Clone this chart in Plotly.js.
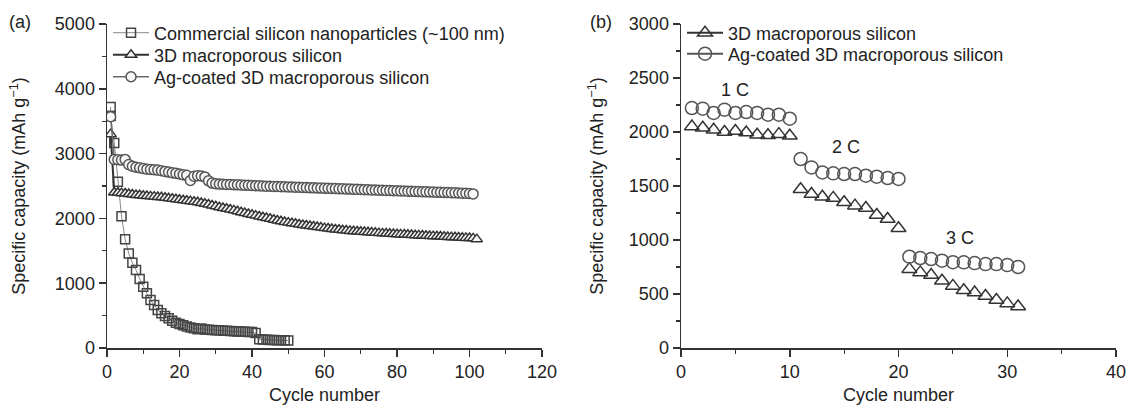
<!DOCTYPE html>
<html>
<head>
<meta charset="utf-8">
<script src="https://cdn.plot.ly/plotly-3.0.1.min.js"></script>
<style>
html,body{margin:0;padding:0;background:#fff;}
#chart{width:1126px;height:405px;}
</style>
</head>
<body>
<div id="chart"></div>
<script>
// ---------- Panel (a): cycling performance ----------
var commercialCycles = [1,1,2,3,4,5,6,7,8,9,10,11,12,13,14,15,16,17,18,19,20,21,22,23,24,25,26,27,28,29,30,31,32,33,34,35,36,37,38,39,40,41,42,43,44,45,46,47,48,49,50];
var commercialCap = [3720,3580,3165,2565,2035,1680,1460,1315,1205,1065,945,845,740,665,585,535,495,458,420,390,370,350,330,318,303,290,300,285,282,278,275,272,268,265,262,258,256,253,250,248,246,232,135,130,126,124,122,120,120,118,116];

var macroCycles = [];
for (var i = 1; i <= 102; i++) macroCycles.push(i);
var macroCap = [3300,2400,2395,2390,2385,2376,2370,2362,2356,2350,
  2345,2340,2336,2330,2325,2318,2311,2303,2296,2288,
  2281,2273,2266,2258,2248,2238,2226,2214,2200,2186,
  2172,2160,2150,2138,2124,2110,2096,2082,2068,2055,
  2043,2030,2018,2005,1993,1980,1968,1956,1945,1935,
  1925,1916,1907,1898,1890,1882,1874,1866,1858,1850,
  1843,1836,1830,1824,1818,1812,1807,1802,1797,1793,
  1789,1785,1781,1777,1773,1769,1766,1762,1759,1756,
  1753,1750,1747,1744,1741,1738,1735,1732,1729,1726,
  1723,1720,1717,1714,1711,1708,1705,1702,1699,1696,
  1692,1680];

var agCycles = [];
for (var j = 1; j <= 101; j++) agCycles.push(j);
var agCap = [3570,2910,2905,2900,2910,2830,2805,2790,2780,2770,
  2760,2755,2750,2745,2735,2725,2715,2705,2695,2685,
  2675,2665,2585,2650,2660,2655,2640,2580,2545,2535,
  2530,2528,2525,2523,2520,2518,2515,2512,2510,2508,
  2505,2503,2500,2498,2496,2494,2492,2490,2488,2486,
  2484,2482,2480,2478,2476,2474,2472,2470,2468,2466,
  2464,2462,2460,2458,2456,2454,2452,2450,2448,2446,
  2444,2442,2440,2438,2436,2434,2432,2430,2428,2426,
  2424,2422,2420,2418,2416,2414,2412,2410,2408,2406,
  2404,2402,2400,2398,2396,2394,2392,2390,2388,2384,
  2378];

// ---------- Panel (b): rate performance ----------
var rateCycles = [1,2,3,4,5,6,7,8,9,10,11,12,13,14,15,16,17,18,19,20,21,22,23,24,25,26,27,28,29,30,31];
var rateMacro = [2050,2040,2020,2000,2010,1995,1975,1970,1980,1965,
  1470,1425,1400,1390,1350,1318,1296,1232,1195,1109,
  730,700,675,622,575,535,513,482,445,413,385];
var rateAg = [2222,2216,2176,2207,2176,2185,2176,2160,2160,2123,
  1750,1672,1626,1617,1611,1611,1595,1586,1574,1565,
  845,833,824,808,795,793,786,777,777,768,750];
var rateLabels = ["1 C","2 C","3 C"];
var rateLabelX = [5.0,15.2,25.7];
var rateLabelY = [2390,1865,1020];

var seriesNames = ["Commercial silicon nanoparticles (~100 nm)","3D macroporous silicon","Ag-coated 3D macroporous silicon"];

var FONT = "Liberation Sans, Arial, sans-serif";
var FS = 18;

var traces = [
  {x: commercialCycles, y: commercialCap, name: seriesNames[0], mode: 'lines+markers', xaxis:'x', yaxis:'y', legend:'legend',
   line:{color:'#8a8a8a', width:1}, marker:{symbol:'square-open', size:9, color:'#444', line:{width:1.5, color:'#444'}}},
  {x: macroCycles, y: macroCap, name: seriesNames[1], mode: 'lines+markers', xaxis:'x', yaxis:'y', legend:'legend3',
   line:{color:'#333', width:2}, marker:{symbol:'triangle-up', size:10, color:'#f4f4f4', line:{width:1.5, color:'#333'}}},
  {x: agCycles, y: agCap, name: seriesNames[2], mode: 'lines+markers', xaxis:'x', yaxis:'y', legend:'legend4',
   line:{color:'#6a6a6a', width:1.5}, marker:{symbol:'circle', size:10, color:'#f8f8f8', line:{width:1.5, color:'#555'}}},

  {x: rateCycles, y: rateMacro, name: seriesNames[1], mode: 'markers', xaxis:'x2', yaxis:'y2', showlegend:false,
   marker:{symbol:'triangle-up-open', size:13, color:'#333', line:{width:1.5, color:'#333'}}},
  {x: rateCycles, y: rateAg, name: seriesNames[2], mode: 'markers', xaxis:'x2', yaxis:'y2', showlegend:false,
   marker:{symbol:'circle-open', size:13, color:'#555', line:{width:1.5, color:'#555'}}},
  // legend entries for panel (b)
  {x: [null], y: [null], name: seriesNames[1], mode: 'lines+markers', xaxis:'x2', yaxis:'y2', legend:'legend2',
   line:{color:'#333', width:2}, marker:{symbol:'triangle-up-open', size:13, color:'#333', line:{width:1.5}}},
  {x: [null], y: [null], name: seriesNames[2], mode: 'lines+markers', xaxis:'x2', yaxis:'y2', legend:'legend5',
   line:{color:'#555', width:2}, marker:{symbol:'circle-open', size:13, color:'#555', line:{width:1.5}}}
];

function xAxis(range, dtick, minor, domain, anchor) {
  return {domain: domain, anchor: anchor, range: range, dtick: dtick, tick0: 0,
    showline:true, linecolor:'#333', linewidth:1.5, ticks:'outside', ticklen:7, tickwidth:1.5, tickcolor:'#333',
    minor:{dtick:minor, ticks:'outside', ticklen:4, tickwidth:1.2, tickcolor:'#333'},
    showgrid:false, zeroline:false, ticklabeloverflow:'allow', tickfont:{family:FONT, size:FS, color:'#222'},
    title:{text:'Cycle number', font:{family:FONT, size:FS, color:'#222'}, standoff:9}};
}
function yAxis(range, dtick, minor, anchor, standoff) {
  return {domain:[0,1], anchor: anchor, range: range, dtick: dtick, tick0: 0,
    showline:true, linecolor:'#333', linewidth:1.5, ticks:'outside', ticklen:7, tickwidth:1.5, tickcolor:'#333',
    minor:{dtick:minor, ticks:'outside', ticklen:4, tickwidth:1.2, tickcolor:'#333'},
    showgrid:false, zeroline:false, ticklabeloverflow:'allow', tickfont:{family:FONT, size:FS, color:'#222'},
    title:{text:'Specific capacity (mAh g<sup>−1</sup>)', font:{family:FONT, size:FS, color:'#222'}, standoff:standoff}};
}

var annotations = [
  {text:'(a)', xref:'paper', yref:'paper', x:-0.085, y:1.006, xanchor:'center', yanchor:'middle', showarrow:false, font:{family:FONT, size:FS, color:'#222'}},
  {text:'(b)', xref:'paper', yref:'paper', x:0.4848, y:1.006, xanchor:'center', yanchor:'middle', showarrow:false, font:{family:FONT, size:FS, color:'#222'}}
];
for (var k = 0; k < rateLabels.length; k++) {
  annotations.push({text: rateLabels[k], xref:'x2', yref:'y2', x: rateLabelX[k], y: rateLabelY[k], showarrow:false,
    font:{family:FONT, size:FS, color:'#222'}});
}

function legendAt(x, y) {
  return {x:x, y:y, xanchor:'left', yanchor:'middle', bgcolor:'rgba(255,255,255,0)',
    font:{family:FONT, size:FS, color:'#222'}, tracegroupgap:0, itemwidth:36, borderwidth:0};
}

var layout = {
  width:1126, height:405,
  margin:{l:107, r:0, t:24, b:57},
  paper_bgcolor:'#fff', plot_bgcolor:'#fff',
  font:{family:FONT, size:FS, color:'#222'},
  xaxis: xAxis([0,120], 20, 10, [0, 0.4269], 'y'),
  yaxis: yAxis([0,5000], 1000, 500, 'x', 24),
  xaxis2: xAxis([0,40], 10, 5, [0.5633, 0.9902], 'y2'),
  yaxis2: yAxis([0,3000], 500, 250, 'x2', 20),
  legend:  legendAt(0.001, (348-33)/324),
  legend3: legendAt(0.001, (348-55)/324),
  legend4: legendAt(0.001, (348-77)/324),
  legend2: legendAt(0.5643, (348-33)/324),
  legend5: legendAt(0.5643, (348-54)/324),
  annotations: annotations,
  showlegend:true
};

Plotly.newPlot('chart', traces, layout, {displayModeBar:false, staticPlot:true});
</script>
</body>
</html>
